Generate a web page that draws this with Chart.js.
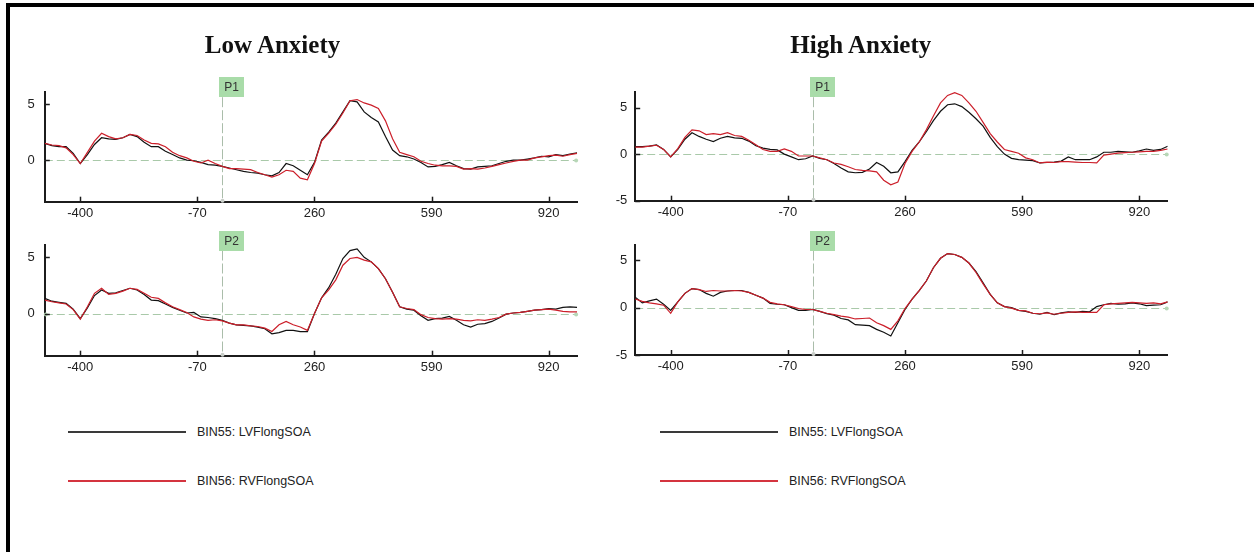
<!DOCTYPE html>
<html>
<head>
<meta charset="utf-8">
<title>ERP waveforms – Low vs High Anxiety</title>
<script src="https://cdn.jsdelivr.net/npm/chart.js@4.4.1/dist/chart.umd.min.js"></script>
<style>
  html, body { margin: 0; padding: 0; background: #fff; }
  body { width: 1254px; height: 552px; position: relative; overflow: hidden; }
  .frame-top { position: absolute; left: 6px; top: 3px; width: 1248px; height: 4px; background: #000; }
  .frame-left { position: absolute; left: 6px; top: 3px; width: 4px; height: 549px; background: #000; }
  canvas { position: absolute; }
  .title {
    position: absolute; top: 32px; line-height: 25px;
    font-family: "Liberation Serif", "Times New Roman", serif;
    font-weight: bold; font-size: 25px; color: #111;
    transform: translateX(-50%); white-space: nowrap;
  }
  .lg-line { position: absolute; height: 2px; }
  .lg-text {
    position: absolute; line-height: 14px; font-size: 12.5px; color: #222;
    font-family: "Liberation Sans", Arial, sans-serif; white-space: nowrap;
  }
</style>
</head>
<body>
<div class="frame-top"></div>
<div class="frame-left"></div>

<script>
// ---- data -------------------------------------------------------------
const groupTitles = ['Low Anxiety', 'High Anxiety'];
const seriesNames = ['BIN55: LVFlongSOA', 'BIN56: RVFlongSOA'];
const markerLabels = ['P1', 'P2'];

// sample times (ms)
const times = [-500,-480,-460,-440,-420,-400,-380,-360,-340,-320,-300,-280,-260,-240,-220,-200,-180,-160,-140,-120,-100,-80,-60,-40,-20,
  0,20,40,60,80,100,120,140,160,180,200,220,240,260,280,300,320,340,360,380,400,420,440,460,480,
  500,520,540,560,580,600,620,640,660,680,700,720,740,760,780,800,820,840,860,880,900,920,940,960,980,1000];

const xTickValues = [-400, -70, 260, 590, 920];
const yTicksLow = [0, 5];
const yTicksHigh = [-5, 0, 5];
const yRangeLowP1 = [-3.7, 6.1];
const yRangeLowP2 = [-3.75, 6.1];
const yRangeHighP1 = [-5, 6.7];
const yRangeHighP2 = [-5, 6.6];

// amplitudes (µV)
const lowP1_LVF = [1.5,1.3,1.2,1.2,0.6,-0.3,0.5,1.4,2.0,1.9,1.85,2.0,2.3,2.1,1.6,1.2,1.2,0.8,0.5,0.2,0.0,-0.05,-0.2,-0.4,-0.45,
  -0.55,-0.7,-0.85,-1.0,-1.1,-1.15,-1.3,-1.4,-1.1,-0.3,-0.5,-0.9,-1.3,-0.2,1.8,2.5,3.3,4.3,5.3,5.2,4.3,3.8,3.4,2.1,0.9,
  0.4,0.3,0.1,-0.2,-0.6,-0.55,-0.4,-0.2,-0.5,-0.75,-0.8,-0.6,-0.55,-0.5,-0.3,-0.1,0.0,0.0,0.1,0.2,0.35,0.3,0.5,0.4,0.55,0.65];
const lowP1_RVF = [1.5,1.35,1.3,1.1,0.5,-0.3,0.7,1.7,2.4,2.1,1.9,2.0,2.3,2.2,1.8,1.5,1.45,1.2,0.7,0.4,0.2,-0.1,-0.25,0.0,-0.3,
  -0.55,-0.75,-0.75,-0.8,-0.85,-1.1,-1.3,-1.5,-1.3,-0.9,-1.0,-1.6,-1.75,-0.3,1.7,2.4,3.2,4.2,5.3,5.4,5.1,4.9,4.6,3.5,1.9,
  0.7,0.5,0.3,-0.1,-0.3,-0.45,-0.5,-0.5,-0.55,-0.8,-0.75,-0.8,-0.7,-0.55,-0.4,-0.25,-0.1,0.0,0.0,0.2,0.3,0.4,0.45,0.35,0.5,0.6];

const lowP2_LVF = [1.35,1.1,1.0,0.9,0.4,-0.45,0.5,1.6,2.1,1.8,1.85,2.05,2.25,2.1,1.7,1.2,1.15,0.85,0.55,0.3,0.05,0.1,-0.3,-0.35,-0.45,
  -0.6,-0.85,-1.0,-1.05,-1.1,-1.2,-1.35,-1.8,-1.7,-1.5,-1.5,-1.6,-1.6,0.0,1.4,2.3,3.5,4.9,5.6,5.75,5.0,4.6,4.0,3.1,1.9,
  0.6,0.4,0.3,-0.2,-0.6,-0.45,-0.4,-0.25,-0.6,-1.0,-1.2,-0.95,-0.9,-0.7,-0.4,-0.05,0.05,0.1,0.2,0.3,0.35,0.45,0.4,0.55,0.6,0.55];
const lowP2_RVF = [1.2,1.05,0.95,0.85,0.35,-0.5,0.6,1.8,2.25,1.7,1.8,2.0,2.25,2.15,1.8,1.45,1.35,0.95,0.6,0.35,0.1,-0.3,-0.5,-0.6,-0.55,
  -0.65,-0.85,-1.0,-1.0,-1.1,-1.15,-1.3,-1.6,-1.0,-0.7,-1.0,-1.2,-1.5,0.0,1.4,2.1,3.0,4.3,4.9,5.0,4.75,4.6,4.0,3.1,1.9,
  0.6,0.45,0.35,-0.1,-0.35,-0.45,-0.5,-0.45,-0.5,-0.6,-0.65,-0.55,-0.6,-0.5,-0.35,-0.05,0.05,0.1,0.2,0.3,0.35,0.4,0.3,0.2,0.15,0.15];

const highP1_LVF = [0.8,0.8,0.85,1.0,0.5,-0.3,0.5,1.6,2.3,1.9,1.6,1.35,1.7,1.9,1.75,1.7,1.4,0.9,0.65,0.5,0.45,0.0,-0.3,-0.6,-0.5,
  -0.2,-0.45,-0.6,-1.0,-1.5,-1.9,-2.0,-1.95,-1.6,-0.9,-1.3,-2.0,-1.9,-0.8,0.4,1.3,2.4,3.6,4.6,5.3,5.4,5.1,4.5,3.8,3.0,
  1.8,0.8,0.0,-0.45,-0.6,-0.65,-0.7,-0.95,-0.9,-0.85,-0.75,-0.3,-0.6,-0.6,-0.6,-0.3,0.2,0.2,0.3,0.25,0.2,0.35,0.55,0.4,0.5,0.85];
const highP1_RVF = [0.75,0.75,0.85,0.95,0.5,-0.3,0.6,1.8,2.6,2.5,2.1,2.2,2.1,2.3,2.0,1.9,1.5,1.0,0.5,0.3,0.3,0.55,0.3,-0.2,-0.2,
  -0.2,-0.4,-0.6,-0.95,-1.1,-1.35,-1.65,-1.75,-1.8,-1.9,-2.8,-3.3,-3.0,-1.0,0.3,1.3,2.6,4.1,5.5,6.3,6.6,6.3,5.5,4.6,3.4,
  2.2,1.3,0.5,0.3,0.1,-0.4,-0.6,-0.95,-0.85,-0.9,-0.8,-0.8,-0.85,-0.9,-0.9,-0.95,-0.1,0.0,0.1,0.15,0.2,0.25,0.3,0.3,0.4,0.55];

const highP2_LVF = [1.1,0.5,0.7,0.9,0.35,-0.3,0.6,1.5,2.0,1.9,1.5,1.2,1.6,1.75,1.8,1.8,1.6,1.3,1.0,0.45,0.35,0.3,0.0,-0.3,-0.3,
  -0.2,-0.4,-0.65,-0.8,-1.15,-1.3,-1.8,-1.85,-1.9,-2.3,-2.6,-3.0,-1.6,-0.2,0.9,1.8,2.8,4.2,5.2,5.7,5.6,5.3,4.7,3.8,2.6,
  1.4,0.5,0.1,0.0,-0.3,-0.4,-0.6,-0.7,-0.5,-0.75,-0.55,-0.45,-0.5,-0.4,-0.45,0.1,0.3,0.45,0.35,0.4,0.5,0.4,0.2,0.25,0.3,0.6];
const highP2_RVF = [0.9,0.65,0.5,0.4,0.25,-0.6,0.6,1.5,2.0,1.9,1.7,1.8,1.75,1.75,1.8,1.75,1.6,1.3,1.0,0.55,0.4,0.3,0.1,-0.1,-0.2,
  -0.2,-0.4,-0.6,-0.75,-0.9,-1.0,-1.2,-1.15,-1.1,-1.6,-1.9,-2.3,-1.4,-0.1,0.9,1.8,2.8,4.2,5.2,5.7,5.6,5.3,4.7,3.7,2.5,
  1.4,0.5,0.1,-0.05,-0.3,-0.35,-0.6,-0.65,-0.55,-0.7,-0.6,-0.5,-0.45,-0.5,-0.5,-0.5,0.3,0.4,0.45,0.5,0.55,0.5,0.45,0.5,0.4,0.6];

// ---- panel placement (page pixels of each plot area) --------------------
const panels = [
  { area: { left: 44.8,  top: 91.7, right: 577.1,  bottom: 201.7 }, yRange: yRangeLowP1,  yTicks: yTicksLow,  yPad: 10, marker: markerLabels[0], lvf: lowP1_LVF,  rvf: lowP1_RVF,  dotStart: false },
  { area: { left: 44.8,  top: 245,  right: 577.1,  bottom: 355.7 }, yRange: yRangeLowP2,  yTicks: yTicksLow,  yPad: 10, marker: markerLabels[1], lvf: lowP2_LVF,  rvf: lowP2_RVF,  dotStart: true },
  { area: { left: 635.2, top: 91.7, right: 1167.7, bottom: 200.7 }, yRange: yRangeHighP1, yTicks: yTicksHigh, yPad: 8,  marker: markerLabels[0], lvf: highP1_LVF, rvf: highP1_RVF, dotStart: false },
  { area: { left: 635.2, top: 245,  right: 1167.7, bottom: 355 },   yRange: yRangeHighP2, yTicks: yTicksHigh, yPad: 8,  marker: markerLabels[1], lvf: highP2_LVF, rvf: highP2_RVF, dotStart: false }
];

const AXIS_COLOR = '#1c1c1c';
const LVF_COLOR = '#111111';
const RVF_COLOR = '#cc1f2a';
const TICK_FONT = { family: '"Liberation Sans", Arial, sans-serif', size: 13 };

// zero line, stimulus-onset marker with its label box, inward tick marks
const erpMarks = {
  id: 'erpMarks',
  beforeDatasetsDraw(chart, args, opts) {
    const { ctx, chartArea: a, scales: { x, y } } = chart;
    const y0 = Math.round(y.getPixelForValue(0)) + 0.5;
    const x0 = Math.round(x.getPixelForValue(0)) + 0.5;
    ctx.save();
    ctx.lineWidth = 1;
    ctx.strokeStyle = '#a9c9a9';
    ctx.setLineDash([8, 4]);
    ctx.beginPath(); ctx.moveTo(a.left, y0); ctx.lineTo(a.right, y0); ctx.stroke();
    ctx.strokeStyle = '#aabdaa';
    ctx.setLineDash([10, 3]);
    ctx.beginPath(); ctx.moveTo(x0, a.top + 5.5); ctx.lineTo(x0, a.bottom); ctx.stroke();
    ctx.setLineDash([]);
    ctx.fillStyle = '#b7d7b7';
    ctx.beginPath(); ctx.arc(a.right - 1, y0, 2, 0, Math.PI * 2); ctx.fill();
    if (opts.dotStart) { ctx.beginPath(); ctx.arc(a.left + 1, y0, 2, 0, Math.PI * 2); ctx.fill(); }
    ctx.fillStyle = '#c8cdc8';
    ctx.beginPath(); ctx.arc(x0, a.bottom - 1, 2, 0, Math.PI * 2); ctx.fill();
    ctx.restore();
  },
  afterDraw(chart, args, opts) {
    const { ctx, chartArea: a, scales: { x, y } } = chart;
    ctx.save();
    ctx.strokeStyle = AXIS_COLOR;
    ctx.lineWidth = 1.5;
    x.ticks.forEach(t => {
      const px = Math.round(x.getPixelForValue(t.value)) + 0.5;
      ctx.beginPath(); ctx.moveTo(px, a.bottom); ctx.lineTo(px, a.bottom - 5); ctx.stroke();
    });
    y.ticks.forEach(t => {
      const py = Math.round(y.getPixelForValue(t.value)) + 0.5;
      ctx.beginPath(); ctx.moveTo(a.left, py); ctx.lineTo(a.left + 5, py); ctx.stroke();
    });
    // marker label box
    const x0 = x.getPixelForValue(0);
    const bx = Math.round(x0) - 3, by = Math.round(a.top - 14.5), bw = 25, bh = 20;
    ctx.fillStyle = '#a9dca9';
    ctx.fillRect(bx, by, bw, bh);
    ctx.fillStyle = '#333';
    ctx.font = '12px "Liberation Sans", Arial, sans-serif';
    ctx.textAlign = 'center';
    ctx.textBaseline = 'middle';
    ctx.fillText(opts.label, bx + bw / 2, by + bh / 2 + 0.5);
    ctx.restore();
  }
};

function buildPanel(p) {
  const padL = 40, padT = 34, padR = 30, padB = 30;
  const cl = Math.floor(p.area.left) - padL;
  const ct = Math.floor(p.area.top) - padT;
  const cw = Math.ceil(p.area.right) + padR - cl;
  const ch = Math.ceil(p.area.bottom) + padB - ct;
  const canvas = document.createElement('canvas');
  canvas.width = cw; canvas.height = ch;
  canvas.style.left = cl + 'px'; canvas.style.top = ct + 'px';
  canvas.style.width = cw + 'px'; canvas.style.height = ch + 'px';
  document.body.appendChild(canvas);

  const yAxisWidth = p.area.left - cl;
  const xAxisHeight = ct + ch - p.area.bottom;
  const topPad = p.area.top - ct;
  const rightPad = cl + cw - p.area.right;

  const toPoints = vals => times.map((t, i) => ({ x: t, y: vals[i] }));

  new Chart(canvas, {
    type: 'line',
    data: {
      datasets: [
        { label: seriesNames[0], data: toPoints(p.lvf), borderColor: LVF_COLOR, borderWidth: 1.2, pointRadius: 0, tension: 0, order: 1 },
        { label: seriesNames[1], data: toPoints(p.rvf), borderColor: RVF_COLOR, borderWidth: 1.2, pointRadius: 0, tension: 0, order: 0 }
      ]
    },
    options: {
      responsive: false,
      animation: false,
      devicePixelRatio: 1,
      layout: { padding: { left: 0, top: topPad, right: rightPad, bottom: 0 } },
      plugins: {
        legend: { display: false },
        tooltip: { enabled: false },
        erpMarks: { label: p.marker, dotStart: p.dotStart }
      },
      scales: {
        x: {
          type: 'linear', min: -500, max: 1000,
          afterBuildTicks: s => { s.ticks = xTickValues.map(v => ({ value: v })); },
          afterFit: s => { s.height = xAxisHeight; },
          grid: { display: false, drawTicks: false },
          border: { display: true, color: AXIS_COLOR, width: 2 },
          ticks: { padding: 4, color: '#222', font: TICK_FONT, autoSkip: false, maxRotation: 0 }
        },
        y: {
          type: 'linear', min: p.yRange[0], max: p.yRange[1],
          afterBuildTicks: s => { s.ticks = p.yTicks.map(v => ({ value: v })); },
          afterFit: s => { s.width = yAxisWidth; },
          grid: { display: false, drawTicks: false },
          border: { display: true, color: AXIS_COLOR, width: 2 },
          ticks: { padding: p.yPad, color: '#222', font: TICK_FONT }
        }
      }
    },
    plugins: [erpMarks]
  });
}

panels.forEach(buildPanel);

// group titles
[272.5, 860.8].forEach((cx, i) => {
  const d = document.createElement('div');
  d.className = 'title';
  d.style.left = cx + 'px';
  d.textContent = groupTitles[i];
  document.body.appendChild(d);
});

// legends under each column
const legendCols = [{ lineLeft: 68, lineRight: 186, textLeft: 197 }, { lineLeft: 660, lineRight: 778, textLeft: 789 }];
const legendRows = [{ y: 431, color: '#3a3a3a' }, { y: 480, color: '#d4343f' }];
legendCols.forEach(col => {
  legendRows.forEach((row, i) => {
    const ln = document.createElement('div');
    ln.className = 'lg-line';
    ln.style.left = col.lineLeft + 'px';
    ln.style.width = (col.lineRight - col.lineLeft) + 'px';
    ln.style.top = row.y + 'px';
    ln.style.background = row.color;
    document.body.appendChild(ln);
    const tx = document.createElement('div');
    tx.className = 'lg-text';
    tx.style.left = col.textLeft + 'px';
    tx.style.top = (row.y - 6) + 'px';
    tx.textContent = seriesNames[i];
    document.body.appendChild(tx);
  });
});
</script>
</body>
</html>
